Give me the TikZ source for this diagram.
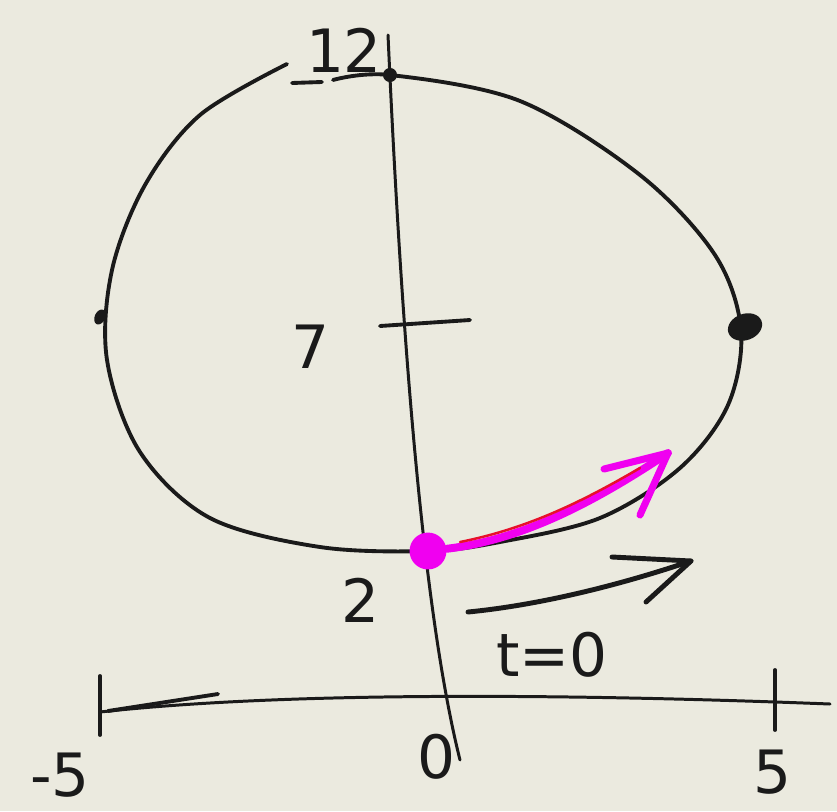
\documentclass[tikz,border=0pt]{standalone}
\usepackage{fontspec}
\setmainfont{DejaVu Sans}
\usetikzlibrary{shapes.geometric}
\definecolor{paper}{HTML}{EBEADF}
\definecolor{ink}{HTML}{1A1A1A}
\definecolor{mag}{HTML}{F000F0}
\definecolor{redln}{HTML}{E8102A}
\begin{document}
\begin{tikzpicture}[x=0.02cm,y=-0.02cm,
  pen/.style={draw=ink,line width=2.2pt,line cap=round,line join=round},
  thinpen/.style={draw=ink,line width=1.7pt,line cap=round},
  lbl/.style={text=ink,font=\fontsize{34}{38}\selectfont,inner sep=0pt}]
\fill[paper] (0,0) rectangle (837,811);
\useasboundingbox (0,0) rectangle (837,811);
% axes
\draw[thinpen] (388,35) .. controls (400,300) and (420,600) .. (460,760);
\draw[thinpen] (100,712) .. controls (300,690) and (600,695) .. (830,704);
\draw[pen] (100,676) -- (100,735);
\draw[pen] (775,670) -- (775,730);
\draw[pen] (108,711) -- (218,694);
\draw[pen] (380,326) -- (470,320);
% loop (drawn from the top, clockwise, ending just short of the start)
\draw[pen] plot[smooth,tension=0.55] coordinates {(333,80) (390,75) (520,101) (640,175) (715,255) (741,330) (728,405) (680,468) (600,518) (500,542) (428,551) (320,547) (210,518) (140,452) (107,360) (112,270) (145,185) (200,115) (287,64)};
\draw[pen] (292,83) -- (322,82);
% dots
\node[fill=ink,circle,minimum size=8pt,inner sep=0pt] (top) at (390,75) {};
\node[fill=ink,ellipse,minimum width=6pt,minimum height=9pt,inner sep=0pt,rotate=-25] (left) at (100,317) {};
\node[fill=ink,ellipse,minimum width=20pt,minimum height=15pt,inner sep=0pt,rotate=20] (right) at (745,327) {};
\node[fill=mag,circle,minimum size=21pt,inner sep=0pt] (start) at (428,551) {};
% magenta arrow
\coordinate (mtip) at (668,453);
\draw[draw=mag,line width=4.5pt,line cap=round] (start) .. controls (520,540) and (590,505) .. (mtip);
\draw[draw=redln,line width=1.4pt,line cap=round] (460,542) .. controls (530,528) and (585,500) .. (640,468);
\draw[draw=mag,line width=4pt,line cap=round,line join=round] (604,469) -- (mtip) -- (640,515);
% black arrow
\coordinate (btail) at (468,612);
\coordinate (btip) at (691,561);
\draw[pen,line width=2.8pt] (btail) .. controls (540,605) and (620,585) .. (btip);
\draw[pen,line width=2.8pt] (612,557) -- (btip) -- (646,602);
% labels
\node[lbl] (l12) at (344,50) {12};
\node[lbl] (l7) at (310,347) {7};
\node[lbl] (l2) at (360,600) {2};
\node[lbl] (lt) at (552,655) {t=0};
\node[lbl] (lm5) at (60,775) {-5};
\node[lbl] (l0) at (436,757) {0};
\node[lbl] (l5) at (772,772) {5};
\end{tikzpicture}
\end{document}
